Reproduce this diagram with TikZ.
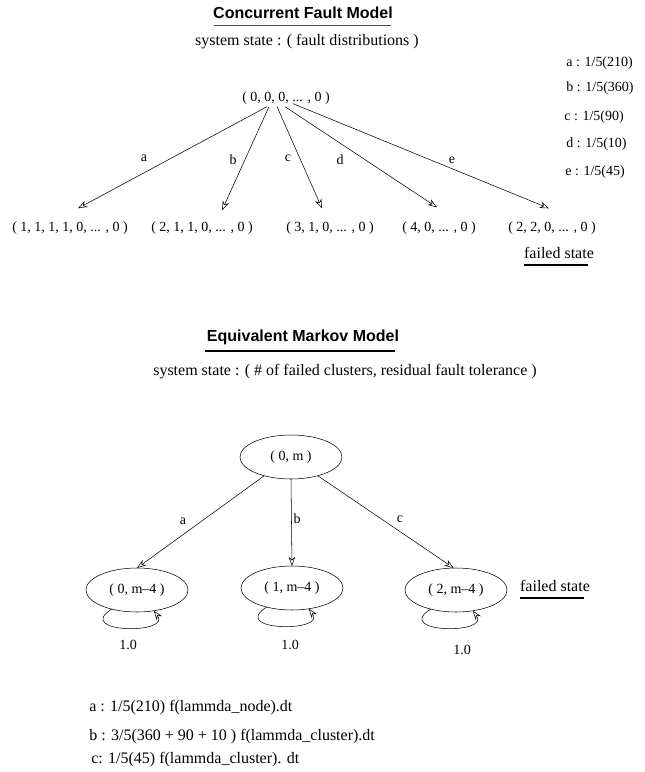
\documentclass[tikz,border=0pt]{standalone}
\usepackage{fontspec}
\setmainfont{Liberation Serif}
\setsansfont{Liberation Sans}
\usetikzlibrary{shapes.geometric,arrows.meta,calc}
\tikzset{state/.style={
        font=\fontsize{10.5}{12}\selectfont,
        inner sep=1pt,
        outer sep=0pt},
        %
        big/.style={
            state,
            font=\fontsize{12}{14}\selectfont},
        title/.style={
            font=\sffamily\bfseries\fontsize{12}{14}\selectfont,
            inner sep=1pt},
        mstate/.style={
            state,
            draw=black,
            ellipse,
            minimum width=76.5pt,
            minimum height=33pt},
        tr/.style={draw=black,thin,-{Stealth[open,length=7pt,width=5pt]}},
        uline/.style={draw=black,line width=2pt}
        }
\def\lsp{0.75pt}

\begin{document}
\begin{tikzpicture}[x=\lsp,y=-\lsp]
\useasboundingbox (0,0) rectangle (644,772);

% concurrent fault model
\node[title] (t1) at (303,13) {Concurrent Fault Model};
\draw[uline,draw=black!70,line width=1.2pt] ($(t1.south west)+(2,5)$) -- ($(t1.south east)+(-3,5)$);
\node[big] (s1) at (307,42) {system state : ( fault distributions )};

\node[state] (root) at (286,98) {( 0, 0, 0, ... , 0 )};
\node[state] (k1) at (70,228) {( 1, 1, 1, 1, 0, ... , 0 )};
\node[state] (k2) at (202,228) {( 2, 1, 1, 0, ... , 0 )};
\node[state] (k3) at (330,228) {( 3, 1, 0, ... , 0 )};
\node[state] (k4) at (439,228) {( 4, 0, ... , 0 )};
\node[state] (k5) at (552,228) {( 2, 2, 0, ... , 0 )};
\node[big] (f1) at (559,253) {failed state};
\draw[uline] ($(f1.south west)+(1,5)$) -- ($(f1.south east)+(-7,5)$);

\draw[tr] ($(root.south)+(-19,1)$) -- ($(k1.north)+(8,-12)$);
\draw[tr] ($(root.south)+(-17,1)$) -- ($(k2.north)+(20,-10)$);
\draw[tr] ($(root.south)+(-9,1)$) -- ($(k3.north)+(-8,-12)$);
\draw[tr] ($(root.south)+(-1,1)$) -- ($(k4.north)+(-2,-13)$);
\draw[tr] ($(root.south)+(7,-2)$) -- ($(k5.north)+(-3,-12)$);

\node[state] (la) at (144,158) {a};
\node[state] (lb) at (233,160) {b};
\node[state] (lc) at (288,158) {c};
\node[state] (ld) at (340,160) {d};
\node[state] (le) at (452,160) {e};

\node[state,anchor=west] (ra) at (565,63) {a : 1/5(210)};
\node[state,anchor=west] (rb) at (565,88) {b : 1/5(360)};
\node[state,anchor=west] (rc) at (563,117) {c : 1/5(90)};
\node[state,anchor=west] (rd) at (565,144) {d : 1/5(10)};
\node[state,anchor=west] (re) at (564,172) {e : 1/5(45)};

% equivalent markov model
\node[title] (t2) at (303,337) {Equivalent Markov Model};
\draw[uline,line width=1.2pt] ($(t2.south west)+(0,5)$) -- ($(t2.south east)+(-6,5)$);
\node[big] (s2) at (345,372) {system state : ( \# of failed clusters, residual fault tolerance )};

\node[mstate] (m0) at (291,457) {( 0, m )};
\node[mstate] (m1) at (137,590) {( 0, m--4 )};
\node[mstate] (m2) at (292,588) {( 1, m--4 )};
\node[mstate] (m3) at (456,590) {( 2, m--4 )};
\node[big] (f2) at (555,586) {failed state};
\draw[uline] ($(f2.south west)+(1,5)$) -- ($(f2.south east)+(-7,5)$);

\draw[tr] (m0.-145) -- (m1.north);
\draw[tr] (m0.south) -- (m2.north);
\draw[tr] (m0.-35) -- (m3.96);

\node[state] (ma) at (183,521) {a};
\node[state] (mb) at (297,519) {b};
\node[state] (mc) at (400,519) {c};

\foreach \n in {m1,m2,m3}
    \draw[tr] (\n.-143) .. controls +(-38,24) and +(18,24) .. (\n.-51);

\node[state] (p1) at (128,645) {1.0};
\node[state] (p2) at (290,645) {1.0};
\node[state] (p3) at (462,650) {1.0};

\node[big,anchor=west] (ea) at (88,708) {a : 1/5(210) f(lammda\_node).dt};
\node[big,anchor=west] (eb) at (88,737) {b : 3/5(360 + 90 + 10 ) f(lammda\_cluster).dt};
\node[big,anchor=west] (ec) at (90,760) {c: 1/5(45) f(lammda\_cluster). dt};
\end{tikzpicture}
\end{document}
